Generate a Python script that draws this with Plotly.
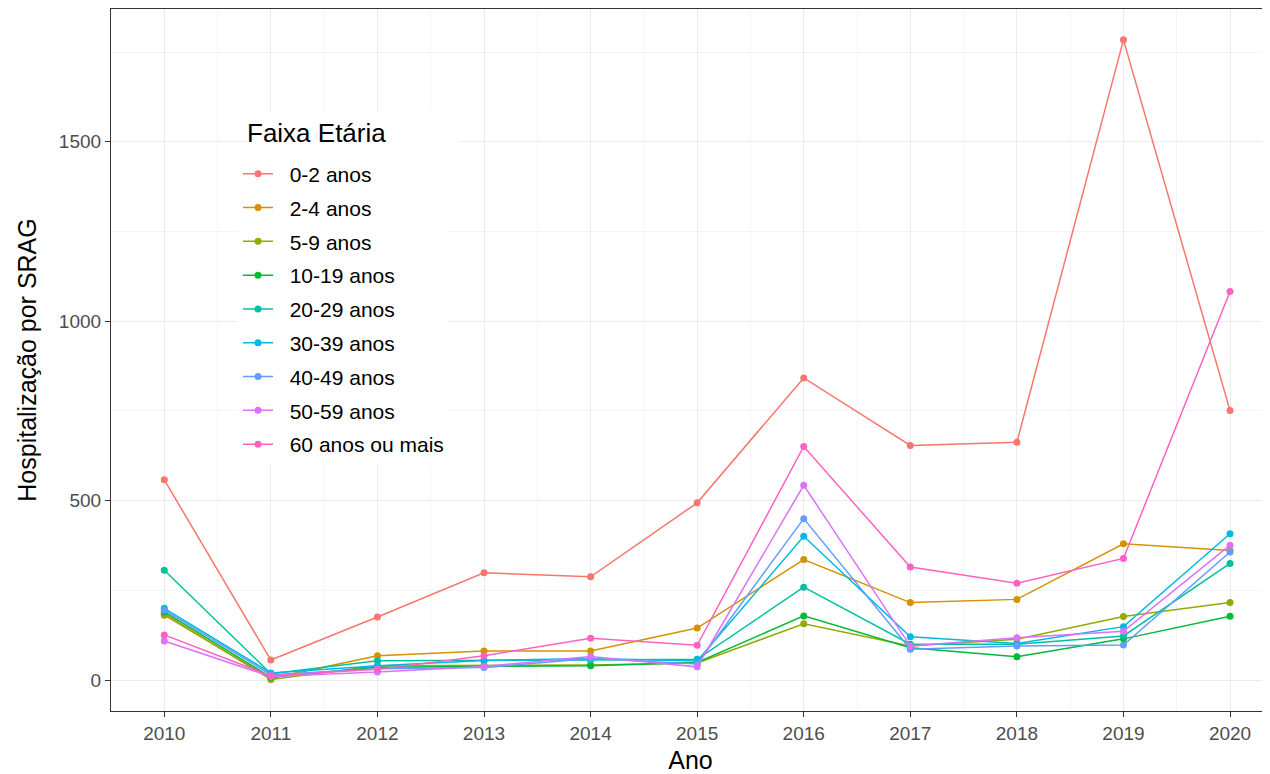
import plotly.graph_objects as go

anos = [2010, 2011, 2012, 2013, 2014, 2015, 2016, 2017, 2018, 2019, 2020]

faixas = ["0-2 anos", "2-4 anos", "5-9 anos", "10-19 anos", "20-29 anos",
          "30-39 anos", "40-49 anos", "50-59 anos", "60 anos ou mais"]

cores = ["#F8766D", "#D39200", "#93AA00", "#00BA38", "#00C19F",
         "#00B9E3", "#619CFF", "#DB72FB", "#FF61C3"]

v_0_2 = [558, 56, 176, 299, 288, 494, 842, 654, 663, 1784, 751]
v_2_4 = [181, 5, 68, 81, 81, 145, 336, 216, 225, 380, 361]
v_5_9 = [185, 2, 40, 40, 42, 48, 157, 95, 114, 177, 216]
v_10_19 = [190, 8, 36, 38, 40, 49, 179, 90, 65, 115, 178]
v_20_29 = [306, 18, 54, 54, 56, 58, 259, 100, 100, 123, 325]
v_30_39 = [200, 20, 40, 55, 60, 53, 401, 121, 102, 149, 408]
v_40_49 = [195, 15, 32, 35, 60, 45, 450, 86, 95, 98, 357]
v_50_59 = [109, 10, 23, 38, 66, 37, 543, 95, 118, 136, 376]
v_60_mais = [126, 12, 30, 68, 117, 97, 651, 315, 270, 339, 1083]

series = [v_0_2, v_2_4, v_5_9, v_10_19, v_20_29, v_30_39, v_40_49, v_50_59, v_60_mais]

y_ticks = [0, 500, 1000, 1500]

FONT = "Liberation Sans, Arial, sans-serif"
NB = "\u00a0\u00a0"

fig = go.Figure()
for nome, cor, vals in zip(faixas, cores, series):
    fig.add_trace(go.Scatter(
        x=anos, y=vals, name=NB + nome, mode="lines+markers",
        legendgroup=nome,
        line=dict(color=cor, width=1.5),
        marker=dict(color=cor, size=7),
    ))

fig.update_layout(
    width=1262, height=766,
    margin=dict(l=103, r=0, t=1, b=63),
    paper_bgcolor="white", plot_bgcolor="white",
    font=dict(family=FONT, color="black"),
    showlegend=True,
    legend=dict(
        x=0.1096, y=0.794, xanchor="left", yanchor="top",
        bgcolor="white", borderwidth=0,
        font=dict(size=21, color="black", family=FONT),
        tracegroupgap=3.5,
        itemwidth=30,
    ),
    annotations=[dict(
        text="Faixa Etária", xref="paper", yref="paper",
        x=0.1165, y=0.8563, xanchor="left", yanchor="top",
        showarrow=False, align="left", valign="middle",
        width=212, height=44, bgcolor="white", borderpad=0,
        font=dict(size=26, color="black", family=FONT),
    )],
    xaxis=dict(
        range=[2009.5, 2020.375], automargin=False,
        tickmode="array", tickvals=anos, ticktext=[str(a) for a in anos],
        ticks="outside", ticklen=5, tickwidth=1.2, tickcolor="#333333",
        tickfont=dict(size=19, color="#4D4D4D", family=FONT),
        showgrid=True, gridcolor="#EBEBEB", gridwidth=1.2,
        minor=dict(dtick=0.5, tick0=2009.5, showgrid=True, gridcolor="#F4F4F4", gridwidth=0.7, ticks=""),
        showline=True, linecolor="#333333", linewidth=1.2, mirror=True,
        zeroline=False,
        title=dict(text="Ano", font=dict(size=25, color="black", family=FONT)),
    ),
    yaxis=dict(
        range=[-86, 1870], automargin=False,
        tickmode="array", tickvals=y_ticks, ticktext=[str(t) for t in y_ticks],
        ticks="outside", ticklen=5, tickwidth=1.2, tickcolor="#333333",
        tickfont=dict(size=19, color="#4D4D4D", family=FONT),
        showgrid=True, gridcolor="#EBEBEB", gridwidth=1.2,
        minor=dict(dtick=250, tick0=250, showgrid=True, gridcolor="#F4F4F4", gridwidth=0.7, ticks=""),
        showline=True, linecolor="#333333", linewidth=1.2, mirror=False,
        zeroline=False,
        title=dict(text="Hospitalização por SRAG", font=dict(size=25, color="black", family=FONT)),
    ),
)

fig.write_html("out.html")
